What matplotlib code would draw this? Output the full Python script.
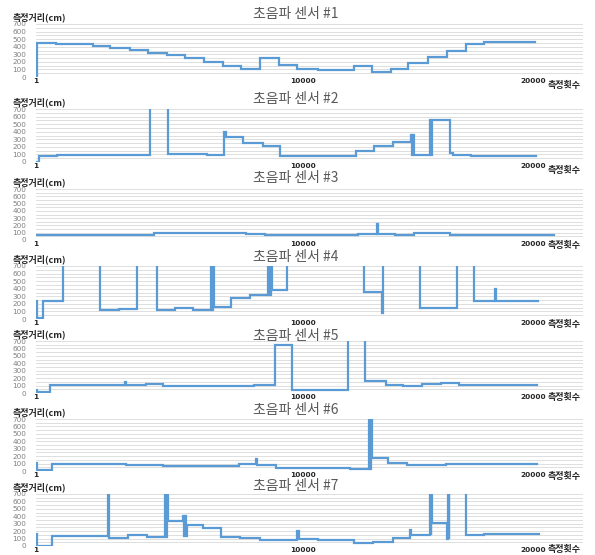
import matplotlib
matplotlib.use("Agg")
import matplotlib.pyplot as plt
import numpy as np

plt.rcParams['font.family'] = ['Noto Sans CJK KR', 'DejaVu Sans']

# ---------------- data (sample index where each level starts, level in cm) ----------------
titles = ["초음파 센서 #1", "초음파 센서 #2", "초음파 센서 #3", "초음파 센서 #4",
          "초음파 센서 #5", "초음파 센서 #6", "초음파 센서 #7"]
y_label = "측정거리(cm)"
x_label = "측정횟수"
x_tick_pos = [1, 10000, 18650]
x_tick_labels = ["1", "10000", "20000"]
y_ticks = [0, 100, 200, 300, 400, 500, 600, 700]

s1_x = [0, 40, 750, 2140, 2780, 3530, 4200, 4920, 5600, 6300, 7020, 7700, 8400, 9100,
        9800, 10550, 11900, 12600, 13300, 13950, 14700, 15400, 16100, 16800, 18700]
s1_y = [0, 450, 430, 410, 385, 355, 320, 290, 250, 200, 145, 100, 255, 165,
        110, 95, 140, 60, 110, 190, 260, 345, 440, 465, 465]

s2_x = [0, 100, 790, 4290, 4960, 6420, 7060, 7130, 7770, 8490, 9160, 11980, 12650, 13370,
        14040, 14080, 14120, 14160, 14760, 14800, 14840, 15510, 15620, 16300, 18740]
s2_y = [0, 85, 95, 1000, 105, 95, 390, 330, 255, 205, 75, 150, 215, 265,
        360, 95, 360, 95, 555, 95, 555, 115, 95, 80, 80]

s3_x = [0, 4420, 7885, 8590, 12055, 12780, 12820, 13465, 14170, 15515, 19400]
s3_y = [75, 93, 79, 70, 84, 225, 84, 65, 93, 70, 70]

s4_x = [0, 40, 263, 1014, 2403, 3117, 3793, 4544, 5219, 5895, 6571, 6600, 6630, 6660,
        7322, 8036, 8712, 8750, 8790, 8830, 9425, 12279, 12955, 12995, 14382, 15050,
        15090, 15771, 16409, 17198, 17240, 18813]
s4_y = [240, 13, 240, 1000, 120, 138, 1000, 125, 148, 120, 1000, 120, 1000, 160,
        280, 315, 1000, 315, 1000, 380, 1000, 360, 80, 1000, 140, 150,
        140, 1000, 232, 395, 232, 232]

s5_x = [0, 40, 532, 3340, 3380, 4136, 4772, 5408, 5479, 6045, 8165, 8942, 9578, 11698,
        12334, 13111, 13747, 14454, 15161, 15868, 18765]
s5_y = [36, 10, 112, 148, 110, 125, 99, 90, 100, 90, 108, 642, 45, 1000,
        162, 112, 94, 126, 135, 112, 112]

s6_x = [0, 40, 603, 3359, 4772, 7599, 8235, 8280, 9013, 9649, 11769, 12476, 12510, 12540,
        12575, 13182, 13889, 15373, 16009, 18765]
s6_y = [103, 13, 94, 81, 72, 99, 157, 81, 45, 36, 22, 1000, 22, 1000,
        180, 103, 81, 90, 99, 99]

s7_x = [0, 40, 601, 2704, 2741, 3455, 4168, 4844, 4880, 4920, 4957, 5520, 5560, 5600,
        5640, 5670, 6271, 6947, 7660, 8411, 9800, 9840, 10552, 11303, 11903, 12617,
        13368, 14006, 14044, 14757, 14790, 14820, 14850, 15396, 15430, 15460, 15490,
        16109, 16785, 18850]
s7_y = [155, 0, 135, 1000, 111, 150, 120, 1000, 120, 1000, 332, 400, 133, 400,
        133, 288, 243, 120, 102, 75, 200, 88, 75, 84, 35, 53,
        111, 213, 142, 1000, 142, 1000, 310, 88, 1000, 88, 1000,
        142, 168, 168]

series = [(s1_x, s1_y), (s2_x, s2_y), (s3_x, s3_y), (s4_x, s4_y),
          (s5_x, s5_y), (s6_x, s6_y), (s7_x, s7_y)]

# ---------------- layout (pixels) ----------------
W, H = 595, 555
ax_left, ax_right = 36, 583
ax_h = [53, 53, 51, 53, 52, 52, 52]
ax_tops = [24, 109, 189, 266, 341, 419, 494]
title_y = [14, 99, 178, 257, 336, 410, 486]
xlab_off = [4, 4, 1, 1, 0, 1, -1]

line_color = "#5B9BD5"
grid_color = "#D9D9D9"

fig = plt.figure(figsize=(W / 100, H / 100), dpi=100)

for i, (xs, ys) in enumerate(series):
    top = ax_tops[i]
    bottom = top + ax_h[i]
    ax = fig.add_axes([ax_left / W, 1 - bottom / H,
                       (ax_right - ax_left) / W, ax_h[i] / H])
    ax.plot(xs, ys, drawstyle="steps-post", color=line_color, lw=1.6,
            solid_joinstyle="miter", zorder=3)
    ax.set_xlim(0, 20500)
    ax.set_ylim(0, 700)
    ax.set_yticks(y_ticks)
    ax.set_yticks(np.arange(50, 700, 100), minor=True)
    ax.set_xticks(x_tick_pos)
    ax.set_xticklabels(x_tick_labels)
    ax.grid(axis="y", which="both", color=grid_color, lw=0.6, zorder=0)
    for sp in ax.spines.values():
        sp.set_visible(False)
    ax.tick_params(axis="y", which="both", length=0, pad=7, labelsize=5.2,
                   labelcolor="#808080")
    ax.tick_params(axis="x", length=0, pad=0.5, labelsize=5.3, labelcolor="#262626")
    for lab in ax.get_yticklabels():
        lab.set_fontfamily("DejaVu Sans")
    for lab in ax.get_xticklabels():
        lab.set_fontfamily("DejaVu Sans")
        lab.set_fontweight("bold")

    fig.text(296 / W, 1 - title_y[i] / H, titles[i], ha="center", va="center",
             fontsize=10, color="#595959")
    fig.text(13 / W, 1 - (top - 7) / H, y_label, ha="left", va="center",
             fontsize=6.5, fontweight="bold", color="#262626")
    fig.text(548 / W, 1 - (bottom + xlab_off[i] + 4) / H, x_label, ha="left",
             va="center", fontsize=6.5, fontweight="bold", color="#262626")

fig.savefig("out.png", dpi=100, facecolor="white")
